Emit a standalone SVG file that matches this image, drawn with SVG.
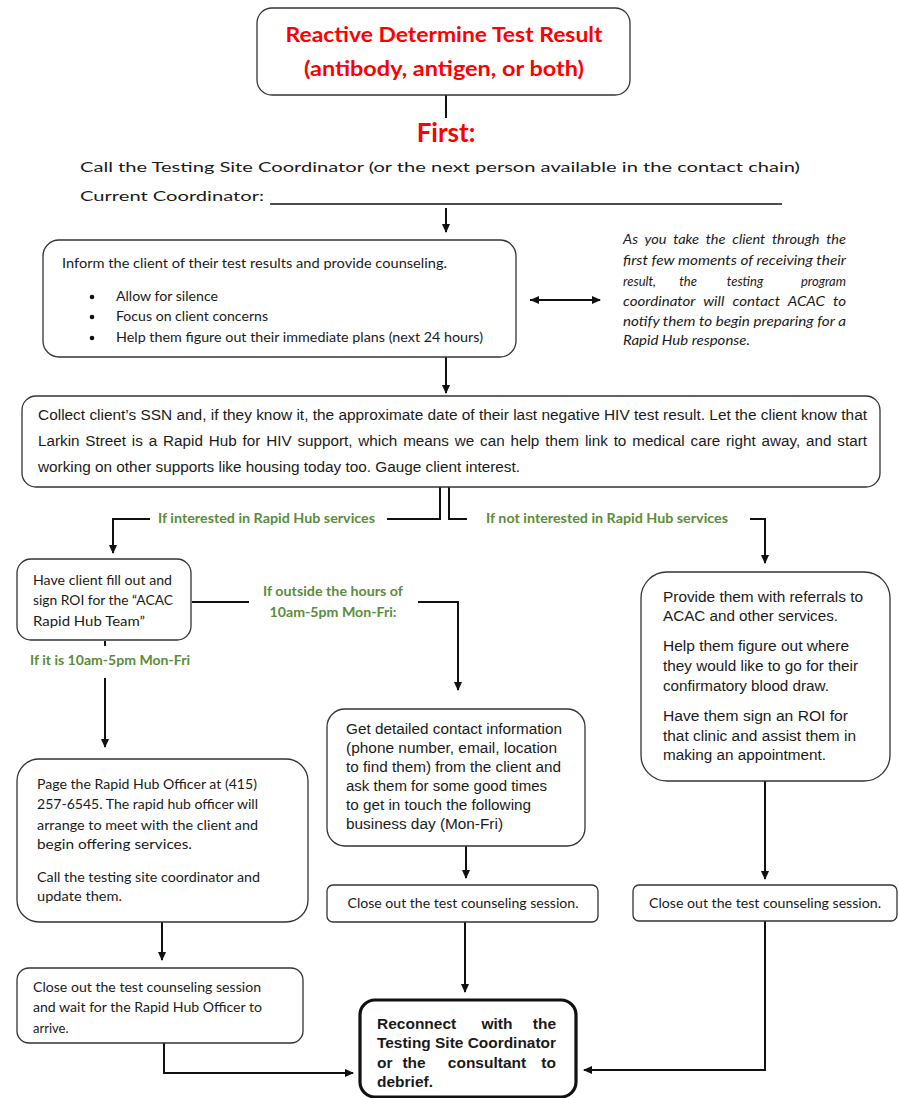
<svg xmlns="http://www.w3.org/2000/svg" width="899" height="1098" viewBox="0 0 899 1098">
<style>
.box{fill:#fff;stroke:#333;stroke-width:1.3}
.thick{fill:#fff;stroke:#111;stroke-width:3.2}
.c{font-family:Lato,"Open Sans",sans-serif;font-size:13px;fill:#1a1a1a}
.a{font-family:"Liberation Sans",Arial,sans-serif;font-size:14px;fill:#1a1a1a}
.b{font-family:"Liberation Sans",Arial,sans-serif;font-size:15.5px;font-weight:bold;fill:#1a1a1a}
.g{font-family:Lato,"Open Sans",sans-serif;font-size:12.5px;font-weight:bold;fill:#5b8c3c}
.red{font-family:Lato,"Open Sans",sans-serif;font-weight:bold;fill:#ff0000}
.it{font-family:Lato,"Open Sans",sans-serif;font-style:italic;font-size:13px;fill:#1a1a1a}
.ln{fill:none;stroke:#111;stroke-width:2}
.arr{fill:none;stroke:#111;stroke-width:2;marker-end:url(#ah)}
</style>
<defs>
<marker id="ah" markerUnits="userSpaceOnUse" markerWidth="10" markerHeight="10" refX="8" refY="5" orient="auto">
<path d="M0,1 L9,5 L0,9 Z" fill="#111"/>
</marker>
<marker id="ahs" markerUnits="userSpaceOnUse" markerWidth="10" markerHeight="10" refX="1" refY="5" orient="auto">
<path d="M10,1 L1,5 L10,9 Z" fill="#111"/>
</marker>
</defs>
<rect width="899" height="1098" fill="#fff"/>

<g id="connectors">
<path class="ln" d="M446 95 V118"/>
<path class="arr" d="M446 208 V232"/>
<path d="M530 300 H600" fill="none" stroke="#111" stroke-width="2" marker-end="url(#ah)" marker-start="url(#ahs)"/>
<path class="arr" d="M446 357 V393"/>
<path class="ln" d="M440 487 V519 H387"/>
<path class="arr" d="M150 519 H113 V553"/>
<path class="ln" d="M449 487 V519 H467"/>
<path class="arr" d="M750 519 H765 V563"/>
<path class="ln" d="M192 602 H249"/>
<path class="arr" d="M418 602 H458 V690"/>
<path class="ln" d="M105 641 V646"/>
<path class="arr" d="M105 678 V747"/>
<path class="arr" d="M162 922 V960"/>
<path class="arr" d="M164 1043 V1073 H353"/>
<path class="arr" d="M466 846 V878"/>
<path class="arr" d="M465 922 V992"/>
<path class="arr" d="M765 781 V879"/>
<path class="arr" d="M765 921 V1070 H584"/>
</g>

<g id="title">
<rect class="box" x="257" y="8" width="373" height="87" rx="15"/>
<text class="red" x="444" y="42" font-size="20" text-anchor="middle" textLength="317" lengthAdjust="spacingAndGlyphs">Reactive Determine Test Result</text>
<text class="red" x="444" y="76" font-size="20" text-anchor="middle" textLength="280" lengthAdjust="spacingAndGlyphs">(antibody, antigen, or both)</text>
</g>

<g id="first">
<text class="red" x="446" y="142" font-size="26" text-anchor="middle">First:</text>
<text class="c" x="80" y="172" font-size="20" textLength="720" lengthAdjust="spacingAndGlyphs">Call the Testing Site Coordinator (or the next person available in the contact chain)</text>
<text class="c" x="80" y="201" font-size="20" textLength="184" lengthAdjust="spacingAndGlyphs">Current Coordinator:</text>
<line x1="270" y1="204" x2="782" y2="204" stroke="#111" stroke-width="1.3"/>
</g>

<g id="inform">
<rect class="box" x="43" y="240" width="473" height="117" rx="16"/>
<text class="c" x="62" y="268" textLength="385" lengthAdjust="spacingAndGlyphs">Inform the client of their test results and provide counseling.</text>
<circle cx="92" cy="297" r="2.3" fill="#111"/>
<circle cx="92" cy="317" r="2.3" fill="#111"/>
<circle cx="92" cy="338" r="2.3" fill="#111"/>
<text class="c" x="116" y="301" textLength="102" lengthAdjust="spacingAndGlyphs">Allow for silence</text>
<text class="c" x="116" y="321" textLength="152" lengthAdjust="spacingAndGlyphs">Focus on client concerns</text>
<text class="c" x="116" y="342" textLength="367" lengthAdjust="spacingAndGlyphs">Help them figure out their immediate plans (next 24 hours)</text>
</g>

<g id="note">
<text class="it" x="623" y="244" textLength="223" lengthAdjust="spacingAndGlyphs" word-spacing="3">As you take the client through the</text>
<text class="it" x="623" y="265" textLength="223" lengthAdjust="spacingAndGlyphs">first few moments of receiving their</text>
<text class="it" x="623" y="286">result,</text>
<text class="it" x="688" y="286" text-anchor="middle">the</text>
<text class="it" x="745" y="286" text-anchor="middle">testing</text>
<text class="it" x="846" y="286" text-anchor="end">program</text>
<text class="it" x="623" y="306" textLength="223" lengthAdjust="spacingAndGlyphs" word-spacing="4">coordinator will contact ACAC to</text>
<text class="it" x="623" y="326" textLength="223" lengthAdjust="spacingAndGlyphs">notify them to begin preparing for a</text>
<text class="it" x="623" y="345" textLength="127" lengthAdjust="spacingAndGlyphs">Rapid Hub response.</text>
</g>

<g id="collect">
<rect class="box" x="22" y="396" width="858" height="91" rx="14"/>
<text class="a" x="38" y="420" font-size="15" textLength="829" lengthAdjust="spacingAndGlyphs">Collect client’s SSN and, if they know it, the approximate date of their last negative HIV test result. Let the client know that</text>
<text class="a" x="38" y="446" font-size="15" textLength="829" lengthAdjust="spacingAndGlyphs" word-spacing="1.5">Larkin Street is a Rapid Hub for HIV support, which means we can help them link to medical care right away, and start</text>
<text class="a" x="38" y="472" font-size="15" textLength="482" lengthAdjust="spacingAndGlyphs">working on other supports like housing today too. Gauge client interest.</text>
</g>

<g id="labels">
<text class="g" x="158" y="523" textLength="217" lengthAdjust="spacingAndGlyphs">If interested in Rapid Hub services</text>
<text class="g" x="486" y="523" textLength="242" lengthAdjust="spacingAndGlyphs">If not interested in Rapid Hub services</text>
<text class="g" x="333" y="596" text-anchor="middle" textLength="140" lengthAdjust="spacingAndGlyphs">If outside the hours of</text>
<text class="g" x="333" y="617" text-anchor="middle" textLength="127" lengthAdjust="spacingAndGlyphs">10am-5pm Mon-Fri:</text>
<text class="g" x="110" y="665" text-anchor="middle" textLength="160" lengthAdjust="spacingAndGlyphs">If it is 10am-5pm Mon-Fri</text>
</g>

<g id="roi">
<rect class="box" x="17" y="559" width="174" height="81" rx="14"/>
<text class="c" x="33" y="585" textLength="139" lengthAdjust="spacingAndGlyphs">Have client fill out and</text>
<text class="c" x="33" y="605" textLength="140" lengthAdjust="spacingAndGlyphs">sign ROI for the “ACAC</text>
<text class="c" x="33" y="626" textLength="112" lengthAdjust="spacingAndGlyphs">Rapid Hub Team”</text>
</g>

<g id="page">
<rect class="box" x="17" y="759" width="291" height="163" rx="22"/>
<text class="c" x="37" y="789" textLength="220" lengthAdjust="spacingAndGlyphs">Page the Rapid Hub Officer at (415)</text>
<text class="c" x="37" y="809" textLength="221" lengthAdjust="spacingAndGlyphs">257-6545. The rapid hub officer will</text>
<text class="c" x="37" y="830" textLength="221" lengthAdjust="spacingAndGlyphs">arrange to meet with the client and</text>
<text class="c" x="37" y="849" textLength="155" lengthAdjust="spacingAndGlyphs">begin offering services.</text>
<text class="c" x="37" y="882" textLength="223" lengthAdjust="spacingAndGlyphs">Call the testing site coordinator and</text>
<text class="c" x="37" y="901" textLength="85" lengthAdjust="spacingAndGlyphs">update them.</text>
</g>

<g id="closeLeft">
<rect class="box" x="17" y="968" width="286" height="75" rx="12"/>
<text class="c" x="33" y="992" textLength="228" lengthAdjust="spacingAndGlyphs">Close out the test counseling session</text>
<text class="c" x="33" y="1012" textLength="229" lengthAdjust="spacingAndGlyphs">and wait for the Rapid Hub Officer to</text>
<text class="c" x="33" y="1033">arrive.</text>
</g>

<g id="contact">
<rect class="box" x="327" y="709" width="258" height="137" rx="18"/>
<text class="a" x="346" y="734" textLength="216" lengthAdjust="spacingAndGlyphs">Get detailed contact information</text>
<text class="a" x="346" y="753" textLength="211" lengthAdjust="spacingAndGlyphs">(phone number, email, location</text>
<text class="a" x="346" y="772" textLength="215" lengthAdjust="spacingAndGlyphs">to find them) from the client and</text>
<text class="a" x="346" y="791" textLength="201" lengthAdjust="spacingAndGlyphs">ask them for some good times</text>
<text class="a" x="346" y="810" textLength="185" lengthAdjust="spacingAndGlyphs">to get in touch the following</text>
<text class="a" x="346" y="829" textLength="157" lengthAdjust="spacingAndGlyphs">business day (Mon-Fri)</text>
</g>

<g id="closeMid">
<rect class="box" x="327" y="885" width="271" height="37" rx="6"/>
<text class="c" x="463" y="908" text-anchor="middle" textLength="231" lengthAdjust="spacingAndGlyphs">Close out the test counseling session.</text>
</g>

<g id="referrals">
<rect class="box" x="641" y="572" width="249" height="209" rx="26"/>
<text class="a" x="663" y="602" textLength="200" lengthAdjust="spacingAndGlyphs">Provide them with referrals to</text>
<text class="a" x="663" y="621" textLength="175" lengthAdjust="spacingAndGlyphs">ACAC and other services.</text>
<text class="a" x="663" y="651" textLength="186" lengthAdjust="spacingAndGlyphs">Help them figure out where</text>
<text class="a" x="663" y="671" textLength="195" lengthAdjust="spacingAndGlyphs">they would like to go for their</text>
<text class="a" x="663" y="691" textLength="166" lengthAdjust="spacingAndGlyphs">confirmatory blood draw.</text>
<text class="a" x="663" y="721" textLength="185" lengthAdjust="spacingAndGlyphs">Have them sign an ROI for</text>
<text class="a" x="663" y="741" textLength="193" lengthAdjust="spacingAndGlyphs">that clinic and assist them in</text>
<text class="a" x="663" y="760" textLength="163" lengthAdjust="spacingAndGlyphs">making an appointment.</text>
</g>

<g id="closeRight">
<rect class="box" x="633" y="885" width="264" height="36" rx="6"/>
<text class="c" x="765" y="908" text-anchor="middle" textLength="232" lengthAdjust="spacingAndGlyphs">Close out the test counseling session.</text>
</g>

<g id="reconnect">
<rect class="thick" x="360" y="1000" width="216" height="97" rx="15"/>
<text class="b" x="377" y="1029">Reconnect</text>
<text class="b" x="497" y="1029" text-anchor="middle">with</text>
<text class="b" x="556" y="1029" text-anchor="end">the</text>
<text class="b" x="377" y="1048" textLength="179" lengthAdjust="spacingAndGlyphs">Testing Site Coordinator</text>
<text class="b" x="377" y="1068">or</text>
<text class="b" x="414" y="1068" text-anchor="middle">the</text>
<text class="b" x="487" y="1068" text-anchor="middle">consultant</text>
<text class="b" x="556" y="1068" text-anchor="end">to</text>
<text class="b" x="377" y="1087">debrief.</text>
</g>
</svg>
